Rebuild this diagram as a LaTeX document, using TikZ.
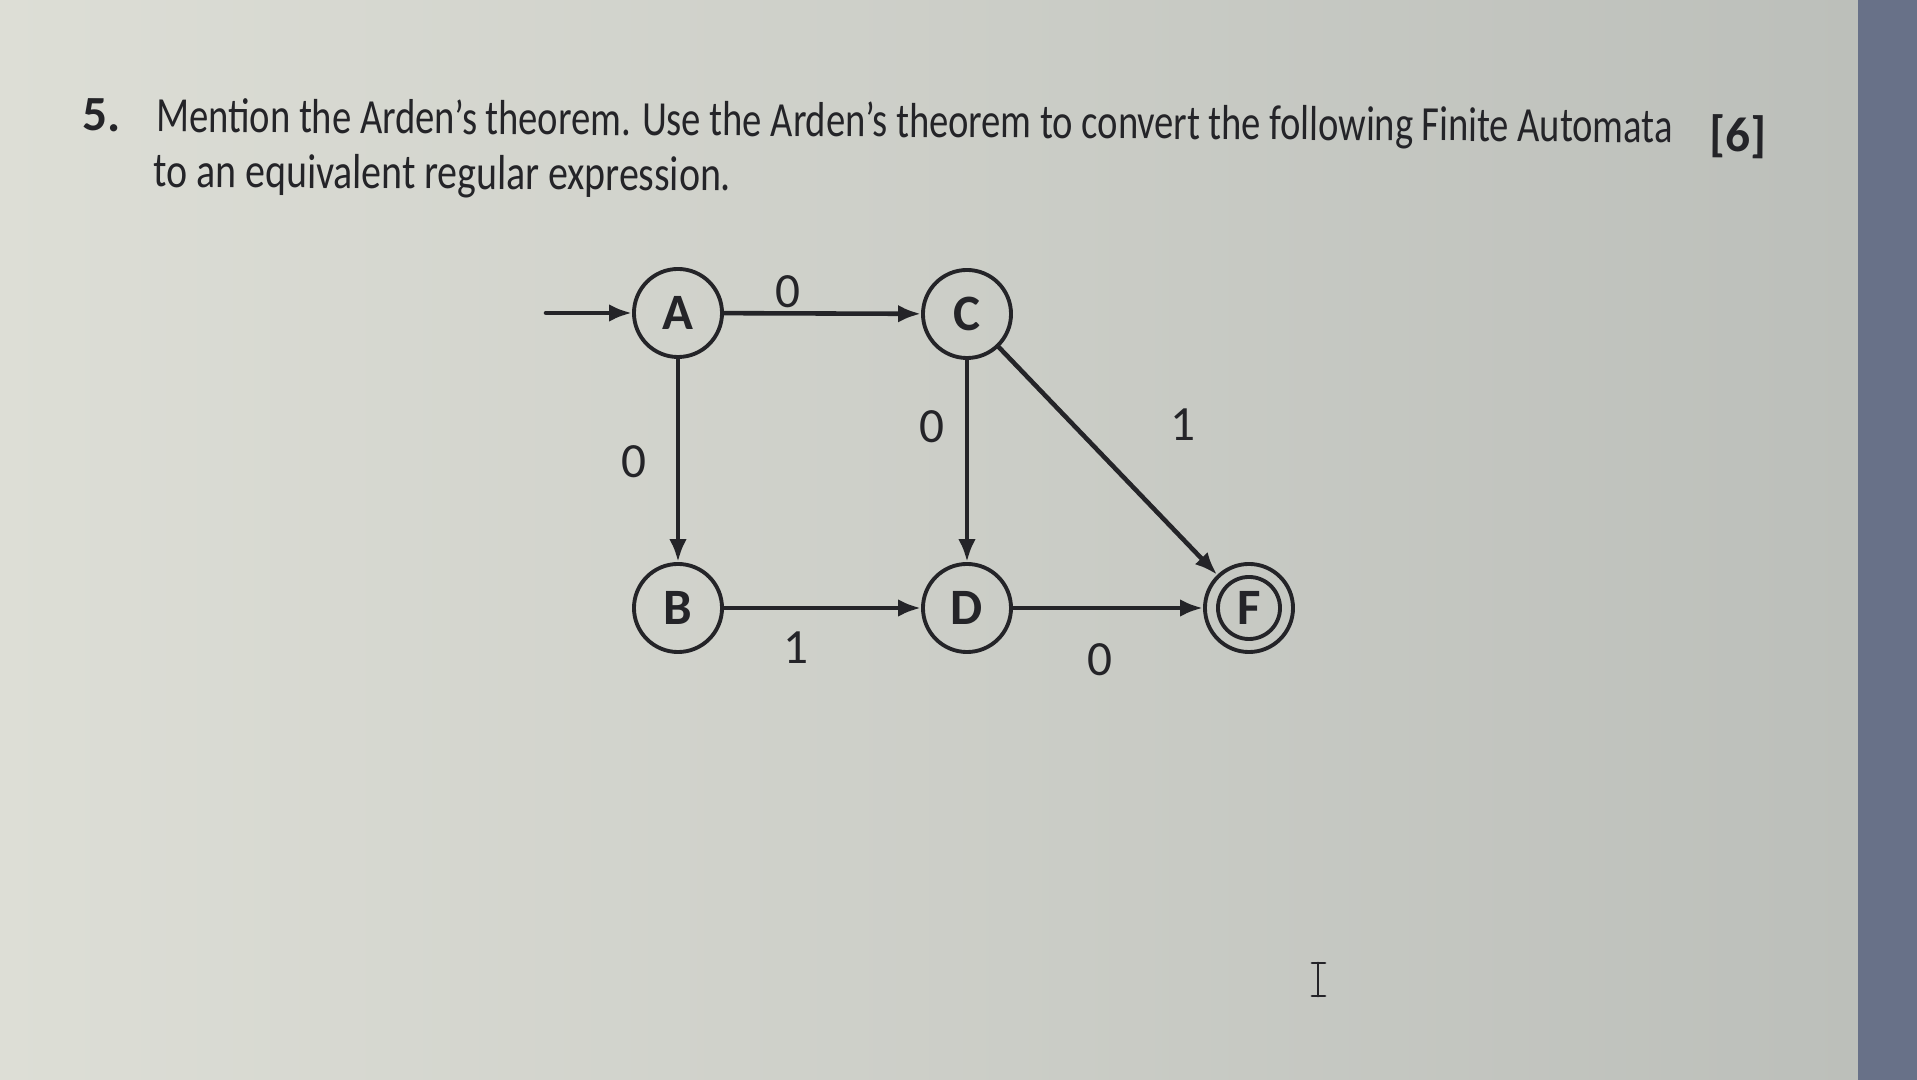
\documentclass[tikz,border=0pt]{standalone}
\usepackage{fontspec}
\setmainfont{Carlito}
\usetikzlibrary{arrows.meta,positioning}

\definecolor{screen}{RGB}{227,230,226}
\definecolor{screenleft}{RGB}{221,222,214}
\definecolor{screenedge}{RGB}{188,191,186}
\definecolor{bezel}{RGB}{104,113,136}
\definecolor{ink}{RGB}{36,36,40}

\tikzset{
  state/.style={circle, draw=ink, line width=1.1pt, minimum size=0.88cm, inner sep=0pt, text=ink, font=\fontsize{14.5}{14.5}\selectfont\bfseries},
  trans/.style={draw=ink, line width=1.3pt, -{Latex[length=6.5pt,width=5pt]}},
  sym/.style={text=ink, inner sep=0pt, font=\fontsize{14}{14}\selectfont},
  question/.style={text=ink, inner sep=0pt, anchor=base west, rotate=-0.4, font=\fontsize{14}{17}\selectfont}
}

\begin{document}
\begin{tikzpicture}[x=0.01cm, y=-0.01cm, line cap=round, line join=round]
    % screen behind the text
    \useasboundingbox (0,0) rectangle (1917,1080);
    \shade[left color=screenleft, middle color=screen, right color=screenedge] (0,0) rectangle (1858,1080);
    \fill[bezel] (1858,0) rectangle (1917,1080);

    % question text
    \node[question, font=\fontsize{14}{17}\selectfont\bfseries] (qnum) at (82,131) {5.};
    \node[question] (qline1) at (156,132) {\resizebox{15.15cm}{\height}{Mention the Arden’s theorem. Use the Arden’s theorem to convert the following Finite Automata}};
    \node[question, font=\fontsize{14}{17}\selectfont\bfseries] (marks) at (1709,151) {[6]};
    \node[question] (qline2) at (153,187) {\resizebox{5.77cm}{\height}{to an equivalent regular expression.}};

    % automaton
    \node[state] (A) at (678,313) {A};
    \node[state] (C) at (967,314) {C};
    \node[state] (B) at (678,608) {B};
    \node[state] (D) at (967,608) {D};
    \node[state] (F) at (1249,608) {F};
    \draw[ink, line width=1.1pt] (F.center) circle[radius=0.31cm];
    \coordinate (start) at (546,313);

    \draw[trans] (start) -- (A);
    \draw[trans] (A) -- (C);
    \draw[trans] (A) -- (B);
    \draw[trans] (C) -- (D);
    \draw[trans] (C) -- (F);
    \draw[trans] (B) -- (D);
    \draw[trans] (D) -- (F);

    \node[sym] (lAC) at (788,292) {0};
    \node[sym] (lAB) at (634,462) {0};
    \node[sym] (lCD) at (932,427) {0};
    \node[sym] (lCF) at (1183,425) {1};
    \node[sym] (lBD) at (796,648) {1};
    \node[sym] (lDF) at (1100,660) {0};

    % text cursor
    \draw[ink, line width=0.8pt] (1318,963) -- (1318,996) (1312,963) -- (1325,963) (1312,996) -- (1325,996);
\end{tikzpicture}
\end{document}
